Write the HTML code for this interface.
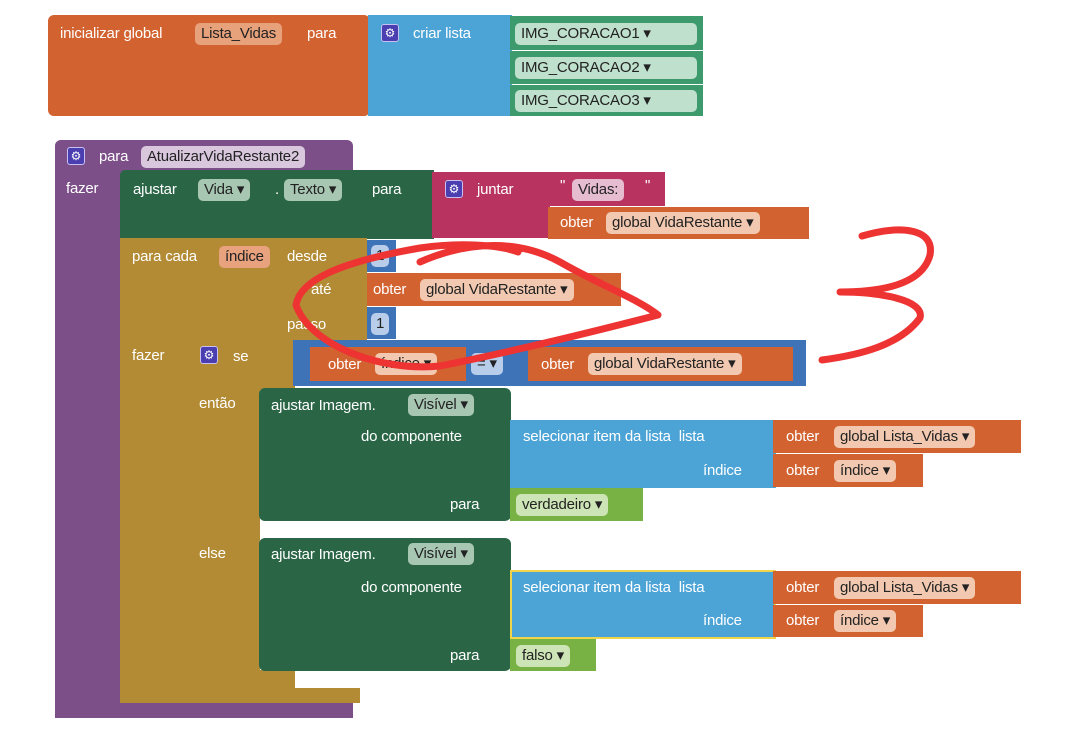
<!DOCTYPE html>
<html><head><meta charset="utf-8"><style>
body{margin:0;width:1079px;height:746px;background:#fff;position:relative;overflow:hidden;font-family:"Liberation Sans",sans-serif;}
div,span{position:absolute;box-sizing:border-box}
.t{color:#fff;font-size:15px;white-space:nowrap;line-height:18px;letter-spacing:-0.2px}
.f{font-size:15px;line-height:22px;height:22px;border-radius:5px;padding:0 6px;white-space:nowrap;color:#222;letter-spacing:-0.2px}
.g{width:18px;height:18px;border-radius:3px;background:#4a3eb0;border:1px solid #c8c0f0;color:#fff;font-size:12px;line-height:16px;text-align:center}
.or{background:#d2622f}
.lb{background:#4ba3d6}
.gr{background:#3d9a6d}
.pu{background:#7c4f88}
.dg{background:#2a6546}
.mu{background:#b28b34}
.mg{background:#b8335f}
.bl{background:#3f73b8}
.bo{background:#78b144}
</style></head><body>

<div class="or" style="left:48px;top:15px;width:322px;height:101px;border-radius:6px"></div>
<span class="t" style="left:60px;top:25px">inicializar global</span>
<span class="f" style="left:195px;top:23px;background:#e7a27c">Lista_Vidas</span>
<span class="t" style="left:307px;top:25px">para</span>
<div class="lb" style="left:368px;top:15px;width:144px;height:101px"></div>
<span class="g" style="left:381px;top:24px">⚙</span>
<span class="t" style="left:413px;top:25px">criar lista</span>
<div class="gr" style="left:510px;top:16px;width:193px;height:34px"></div>
<div class="gr" style="left:510px;top:51px;width:193px;height:33px"></div>
<div class="gr" style="left:510px;top:85px;width:193px;height:31px"></div>
<span class="f" style="left:515px;top:23px;width:182px;background:#bfe0cc">IMG_CORACAO1 ▾</span>
<span class="f" style="left:515px;top:57px;width:182px;background:#bfe0cc">IMG_CORACAO2 ▾</span>
<span class="f" style="left:515px;top:90px;width:182px;background:#bfe0cc">IMG_CORACAO3 ▾</span>

<div class="pu" style="left:55px;top:140px;width:298px;height:32px;border-radius:6px 6px 0 0"></div>
<div class="pu" style="left:55px;top:140px;width:66px;height:578px;border-radius:6px 0 0 6px"></div>
<div class="pu" style="left:55px;top:703px;width:298px;height:15px"></div>
<span class="g" style="left:67px;top:147px">⚙</span>
<span class="t" style="left:99px;top:148px">para</span>
<span class="f" style="left:141px;top:146px;background:#d8c7dd">AtualizarVidaRestante2</span>
<span class="t" style="left:66px;top:180px">fazer</span>

<div class="dg" style="left:120px;top:170px;width:314px;height:69px;border-radius:5px 0 0 0"></div>
<span class="t" style="left:133px;top:181px">ajustar</span>
<span class="f" style="left:198px;top:179px;background:#a8c7b3">Vida ▾</span>
<span class="t" style="left:275px;top:181px">.</span>
<span class="f" style="left:284px;top:179px;background:#a8c7b3">Texto ▾</span>
<span class="t" style="left:372px;top:181px">para</span>
<div class="mg" style="left:432px;top:172px;width:233px;height:34px"></div>
<div class="mg" style="left:432px;top:172px;width:118px;height:66px"></div>
<span class="g" style="left:445px;top:180px">⚙</span>
<span class="t" style="left:477px;top:181px">juntar</span>
<span class="t" style="left:560px;top:177px">"</span>
<span class="f" style="left:572px;top:179px;background:#e5bcd0">Vidas:</span>
<span class="t" style="left:645px;top:177px">"</span>
<div class="or" style="left:548px;top:207px;width:261px;height:32px"></div>
<span class="t" style="left:560px;top:214px">obter</span>
<span class="f" style="left:606px;top:212px;background:#f2c9b0">global VidaRestante ▾</span>

<div class="mu" style="left:120px;top:238px;width:247px;height:117px"></div>
<div class="mu" style="left:120px;top:238px;width:67px;height:465px"></div>
<div class="mu" style="left:120px;top:688px;width:240px;height:15px"></div>
<span class="t" style="left:132px;top:248px">para cada</span>
<span class="f" style="left:219px;top:246px;background:#e8a27e">índice</span>
<span class="t" style="left:287px;top:248px">desde</span>
<span class="t" style="left:311px;top:281px">até</span>
<span class="t" style="left:287px;top:316px">passo</span>
<div class="bl" style="left:367px;top:240px;width:29px;height:32px"></div>
<span class="f" style="left:371px;top:245px;background:#b8cdea;padding:0 5px">1</span>
<div class="or" style="left:367px;top:273px;width:254px;height:33px"></div>
<span class="t" style="left:373px;top:281px">obter</span>
<span class="f" style="left:420px;top:279px;background:#f2c9b0">global VidaRestante ▾</span>
<div class="bl" style="left:367px;top:307px;width:29px;height:32px"></div>
<span class="f" style="left:371px;top:313px;background:#b8cdea;padding:0 5px">1</span>
<span class="t" style="left:132px;top:347px">fazer</span>

<div class="mu" style="left:186px;top:340px;width:109px;height:50px;border-radius:6px 0 0 0"></div>
<div class="mu" style="left:186px;top:340px;width:74px;height:350px;border-radius:6px 0 0 6px"></div>
<div class="mu" style="left:186px;top:670px;width:109px;height:20px"></div>
<span class="g" style="left:200px;top:346px">⚙</span>
<span class="t" style="left:233px;top:348px">se</span>
<span class="t" style="left:199px;top:395px">então</span>
<span class="t" style="left:199px;top:545px">else</span>
<div class="bl" style="left:293px;top:340px;width:513px;height:46px"></div>
<div class="or" style="left:310px;top:347px;width:156px;height:34px"></div>
<span class="t" style="left:328px;top:356px">obter</span>
<span class="f" style="left:375px;top:353px;background:#f2c9b0">índice ▾</span>
<span class="f" style="left:471px;top:353px;background:#b8cdea">= ▾</span>
<div class="or" style="left:528px;top:347px;width:265px;height:34px"></div>
<span class="t" style="left:541px;top:356px">obter</span>
<span class="f" style="left:588px;top:353px;background:#f2c9b0">global VidaRestante ▾</span>

<div class="dg" style="left:259px;top:388px;width:252px;height:133px;border-radius:6px"></div>
<span class="t" style="left:271px;top:397px">ajustar Imagem.</span>
<span class="f" style="left:408px;top:394px;background:#a8c7b3">Visível ▾</span>
<span class="t" style="left:361px;top:428px">do componente</span>
<span class="t" style="left:450px;top:496px">para</span>
<div class="lb" style="left:510px;top:420px;width:266px;height:68px"></div>
<span class="t" style="left:523px;top:428px">selecionar item da lista &nbsp;lista</span>
<span class="t" style="left:703px;top:462px">índice</span>
<div class="or" style="left:773px;top:420px;width:248px;height:33px"></div>
<span class="t" style="left:786px;top:428px">obter</span>
<span class="f" style="left:834px;top:426px;background:#f2c9b0">global Lista_Vidas ▾</span>
<div class="or" style="left:773px;top:454px;width:150px;height:33px"></div>
<span class="t" style="left:786px;top:462px">obter</span>
<span class="f" style="left:834px;top:460px;background:#f2c9b0">índice ▾</span>
<div class="bo" style="left:510px;top:488px;width:133px;height:33px"></div>
<span class="f" style="left:516px;top:494px;background:#cde5b6">verdadeiro ▾</span>

<div class="dg" style="left:259px;top:538px;width:252px;height:133px;border-radius:6px"></div>
<span class="t" style="left:271px;top:546px">ajustar Imagem.</span>
<span class="f" style="left:408px;top:543px;background:#a8c7b3">Visível ▾</span>
<span class="t" style="left:361px;top:579px">do componente</span>
<span class="t" style="left:450px;top:647px">para</span>
<div class="lb" style="left:510px;top:570px;width:266px;height:69px;border:2px solid #f0d54a"></div>
<span class="t" style="left:523px;top:579px">selecionar item da lista &nbsp;lista</span>
<span class="t" style="left:703px;top:612px">índice</span>
<div class="or" style="left:773px;top:571px;width:248px;height:33px"></div>
<span class="t" style="left:786px;top:579px">obter</span>
<span class="f" style="left:834px;top:577px;background:#f2c9b0">global Lista_Vidas ▾</span>
<div class="or" style="left:773px;top:605px;width:150px;height:32px"></div>
<span class="t" style="left:786px;top:612px">obter</span>
<span class="f" style="left:834px;top:610px;background:#f2c9b0">índice ▾</span>
<div class="bo" style="left:510px;top:639px;width:86px;height:32px"></div>
<span class="f" style="left:516px;top:645px;background:#cde5b6">falso ▾</span>

<svg style="position:absolute;left:0;top:0" width="1079" height="746">
<g fill="none" stroke="#ee3333" stroke-width="7" stroke-linecap="round" stroke-linejoin="round">
<path d="M420,262 C470,240 520,240 560,262 C600,285 640,300 658,315 C600,330 520,350 440,366 C380,372 310,345 296,305 C300,280 340,262 420,248 C460,242 500,245 518,252"/>
<path d="M862,236 C900,225 935,228 930,255 C922,285 880,292 840,292 C880,292 925,300 920,318 C900,345 860,355 822,360"/>
</g>
</svg>
</body></html>
